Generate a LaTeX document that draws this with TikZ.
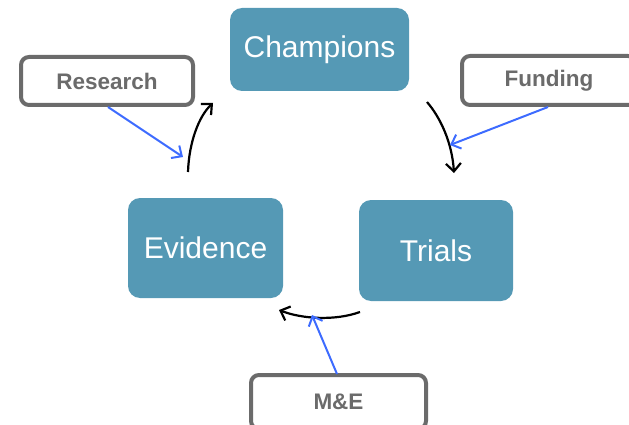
\documentclass[tikz,border=0pt]{standalone}
\usepackage{fontspec}
\setmainfont{Liberation Sans}
\usetikzlibrary{arrows.meta}
\definecolor{boxblue}{HTML}{5599B5}
\definecolor{labgrey}{HTML}{6B6B6B}
\definecolor{arrblue}{HTML}{3D6BFF}
\tikzset{
  stage/.style={draw=none, fill=boxblue, rounded corners=12pt, text=white, font=\fontsize{30}{34}\selectfont},
  lab/.style={draw=labgrey, line width=4pt, fill=white, rounded corners=8pt, text=labgrey, font=\fontsize{22.5}{26}\selectfont\bfseries},
  cycle/.style={black, line width=2.2pt, -{Straight Barb[length=8pt,width=15pt]}},
  feed/.style={arrblue, line width=2pt, -{Straight Barb[length=8pt,width=15pt]}}
}
\begin{document}
\begin{tikzpicture}[x=1pt,y=-1pt]
\useasboundingbox (0,0) rectangle (629,425);
\clip (0,0) rectangle (629,425);
\node[stage, minimum width=179pt, minimum height=83pt] (champ) at (319.5,49.5) {Champions};
\node[stage, minimum width=155pt, minimum height=100pt] (evid) at (205.5,248) {Evidence};
\node[stage, minimum width=154pt, minimum height=101pt] (trials) at (436,250.5) {Trials};
\node[lab, minimum width=172pt, minimum height=48pt] (research) at (107,81) {Research};
\node[lab, minimum width=174pt, minimum height=49pt] (funding) at (549,80.5) {Funding};
\node[lab, minimum width=175pt, minimum height=54pt] (me) at (338.5,402) {M\&E};
% cycle arrow ends
\coordinate (c1s) at (188,172);
\coordinate (c1e) at (213,103);
\coordinate (c2s) at (427,102);
\coordinate (c2e) at (454,173);
\coordinate (c3s) at (360,312);
\coordinate (c3e) at (279,310);
% feed arrow ends
\coordinate (f1s) at (108,107);
\coordinate (f1e) at (183,157);
\coordinate (f2s) at (548,107);
\coordinate (f2e) at (450,145);
\coordinate (f3s) at (337,374);
\coordinate (f3e) at (312,315);
\draw[cycle] (c1s) .. controls (189,142) and (199,116) .. (c1e);
\draw[cycle] (c2s) .. controls (440,117) and (452,142) .. (c2e);
\draw[cycle] (c3s) .. controls (335,321) and (302,319) .. (c3e);
\draw[feed] (f1s) -- (f1e);
\draw[feed] (f2s) -- (f2e);
\draw[feed] (f3s) -- (f3e);
\end{tikzpicture}
\end{document}
